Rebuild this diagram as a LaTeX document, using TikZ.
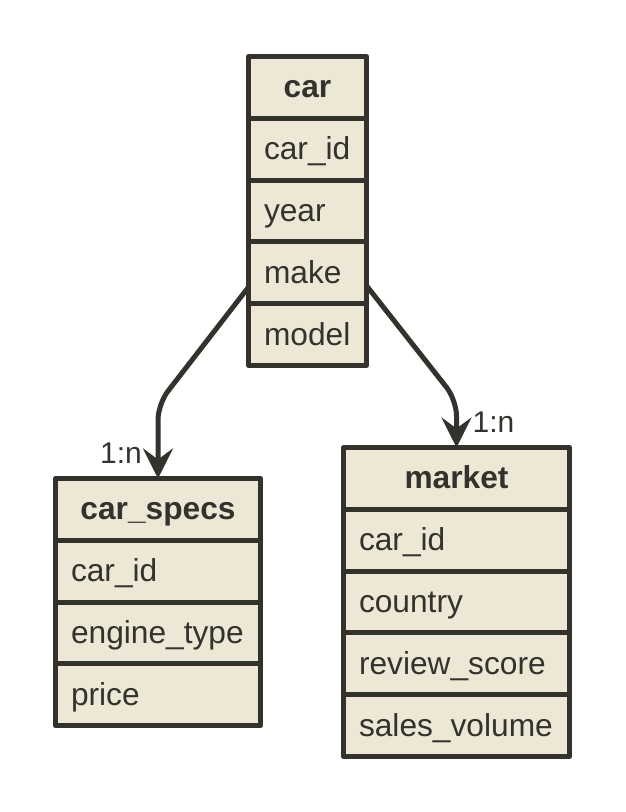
\documentclass[tikz,border=0pt]{standalone}
\usepackage{fontspec}
\setmainfont{Liberation Sans}
\usetikzlibrary{positioning,fit,arrows.meta}

\definecolor{erfill}{RGB}{237,231,214}
\definecolor{erline}{RGB}{52,50,45}

\tikzset{
  field/.style={draw=erline, fill=erfill, line width=5pt, line join=round,
    outer sep=0pt, inner xsep=15.5pt, inner ysep=0pt, minimum height=61.8pt,
    text height=28pt, text depth=7pt, align=left, text=erline,
    font=\fontsize{31.7}{37}\selectfont},
  head/.style={field, align=center, font=\fontsize{31.7}{37}\selectfont\bfseries},
  rel/.style={draw=erline, line width=5pt, rounded corners=16pt,
    -{Stealth[length=30pt,width=30pt,inset=11pt]}},
  card/.style={inner sep=0pt, text=erline, font=\fontsize{30}{36}\selectfont}
}

\begin{document}
\begin{tikzpicture}[x=1pt,y=1pt]
\useasboundingbox (0,0) rectangle (626,812);

% car
\begin{scope}[nodes={text width=87pt}]
\node[head] (car) at (307.5,724.6) {car};
\node[field, below=0pt of car] (car-id) {car\_id};
\node[field, below=0pt of car-id] (car-year) {year};
\node[field, below=0pt of car-year] (car-make) {make};
\node[field, below=0pt of car-make] (car-model) {model};
\end{scope}
\node[fit=(car)(car-model), inner sep=0pt] (car-tbl) {};

% car_specs
\begin{scope}[nodes={text width=174pt}]
\node[head] (specs) at (158,302.6) {car\_specs};
\node[field, below=0pt of specs] (specs-id) {car\_id};
\node[field, below=0pt of specs-id] (specs-engine) {engine\_type};
\node[field, below=0pt of specs-engine] (specs-price) {price};
\end{scope}

% market
\begin{scope}[nodes={text width=195pt}]
\node[head] (market) at (456.5,333.6) {market};
\node[field, below=0pt of market] (market-id) {car\_id};
\node[field, below=0pt of market-id] (market-country) {country};
\node[field, below=0pt of market-country] (market-score) {review\_score};
\node[field, below=0pt of market-score] (market-sales) {sales\_volume};
\end{scope}

% relations
\coordinate (bend-l) at (158,408);
\coordinate (bend-r) at (456.5,412);
\draw[rel] (car-tbl) -- (bend-l) -- (specs.north);
\draw[rel] (car-tbl) -- (bend-r) -- (market.north);

\node[card, above left=15pt and 16pt of specs.north] (card-l) {1:n};
\node[card, above right=15pt and 16pt of market.north] (card-r) {1:n};
\end{tikzpicture}
\end{document}
